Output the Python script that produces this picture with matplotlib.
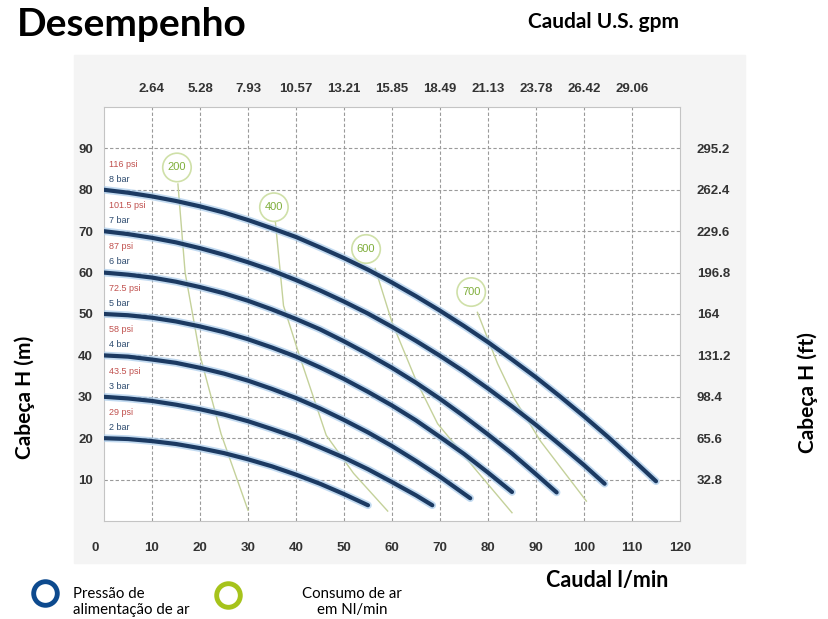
import matplotlib.pyplot as plt
from matplotlib.patches import Rectangle
from matplotlib.lines import Line2D
from matplotlib.transforms import ScaledTranslation

# axis tick values / labels
flow_lmin_ticks = [0, 10, 20, 30, 40, 50, 60, 70, 80, 90, 100, 110, 120]
flow_gpm_ticks = [10, 20, 30, 40, 50, 60, 70, 80, 90, 100, 110]
flow_gpm_labels = ['2.64', '5.28', '7.93', '10.57', '13.21', '15.85', '18.49',
                   '21.13', '23.78', '26.42', '29.06']
head_m_ticks = [10, 20, 30, 40, 50, 60, 70, 80, 90]
head_ft_labels = ['32.8', '65.6', '98.4', '131.2', '164', '196.8', '229.6',
                  '262.4', '295.2']

# performance curves (flow l/min, head m) for each supply pressure
bar_labels = ['2 bar', '3 bar', '4 bar', '5 bar', '6 bar', '7 bar', '8 bar']
psi_labels = ['29 psi', '43.5 psi', '58 psi', '72.5 psi', '87 psi', '101.5 psi', '116 psi']
shutoff_head = [20, 30, 40, 50, 60, 70, 80]

q_2bar = [0, 5, 10, 15, 20, 25, 30, 35, 40, 45, 50, 55]
h_2bar = [20, 19.8, 19.3, 18.6, 17.6, 16.4, 14.9, 13.2, 11.2, 9.0, 6.5, 3.8]
q_3bar = [0, 5, 10, 15, 20, 25, 30, 35, 40, 45, 50, 55, 60, 65, 68.4]
h_3bar = [30, 29.6, 29.0, 28.1, 27.0, 25.7, 24.1, 22.2, 20.2, 17.8, 15.3, 12.5, 9.4, 6.2, 3.8]
q_4bar = [0, 5, 10, 15, 20, 25, 30, 35, 40, 45, 50, 55, 60, 65, 70, 76.3]
h_4bar = [40, 39.7, 39.0, 38.2, 37.0, 35.6, 33.9, 31.9, 29.7, 27.2, 24.4, 21.4, 18.1,
          14.5, 10.7, 5.5]
q_5bar = [0, 5, 10, 15, 20, 25, 30, 35, 40, 45, 50, 55, 60, 65, 70, 75, 80, 85]
h_5bar = [50, 49.7, 49.1, 48.2, 47.0, 45.6, 43.9, 41.9, 39.7, 37.1, 34.3, 31.2, 27.9,
          24.3, 20.3, 16.2, 11.7, 7.0]
q_6bar = [0, 5, 10, 15, 20, 25, 30, 35, 40, 45, 50, 55, 60, 65, 70, 75, 80, 85, 90, 94.3]
h_6bar = [60, 59.5, 58.8, 57.8, 56.5, 55.0, 53.2, 51.1, 48.8, 46.3, 43.4, 40.3, 37.0,
          33.4, 29.5, 25.3, 20.9, 16.3, 11.3, 6.9]
q_7bar = [0, 5, 10, 15, 20, 25, 30, 35, 40, 45, 50, 55, 60, 65, 70, 75, 80, 85, 90, 95,
          100, 104.3]
h_7bar = [70, 69.3, 68.4, 67.3, 65.9, 64.3, 62.5, 60.5, 58.2, 55.7, 53.0, 50.1, 46.9,
          43.5, 39.9, 36.1, 32.0, 27.7, 23.2, 18.4, 13.5, 9.0]
q_8bar = [0, 5, 10, 15, 20, 25, 30, 35, 40, 45, 50, 55, 60, 65, 70, 75, 80, 85, 90, 95,
          100, 105, 110, 115]
h_8bar = [80, 79.3, 78.4, 77.3, 76.0, 74.5, 72.7, 70.7, 68.6, 66.1, 63.5, 60.7, 57.6,
          54.3, 50.8, 47.1, 43.2, 39.0, 34.7, 30.1, 25.3, 20.3, 15.0, 9.6]

# air consumption lines (Nl/min)
q_air200 = [15.4, 16.9, 20, 24.4, 30]
h_air200 = [81.4, 60, 40, 21, 2.6]
q_air400 = [35.7, 37.4, 40.7, 46.3, 52, 59.1]
h_air400 = [72.3, 52, 40, 20.7, 11.5, 2.4]
q_air600 = [56.5, 60, 65, 69.5, 77, 85]
h_air600 = [61, 48, 34, 23.5, 13, 2]
q_air700 = [77.8, 82, 85.5, 91, 100.5]
h_air700 = [50.4, 38, 29.5, 19.2, 4.8]
air_labels = ['200', '400', '600', '700']
air_label_q = [15.2, 35.4, 54.6, 76.5]
air_label_h = [85.4, 75.8, 65.7, 55.3]

curves_q = [q_2bar, q_3bar, q_4bar, q_5bar, q_6bar, q_7bar, q_8bar]
curves_h = [h_2bar, h_3bar, h_4bar, h_5bar, h_6bar, h_7bar, h_8bar]
air_q = [q_air200, q_air400, q_air600, q_air700]
air_h = [h_air200, h_air400, h_air600, h_air700]

W, H = 829, 619
fig = plt.figure(figsize=(W / 100, H / 100), dpi=100)

# grey backdrop of the pasted chart image
fig.patches.append(Rectangle((74 / W, 1 - 563 / H), (745 - 74) / W, (563 - 55) / H,
                             transform=fig.transFigure, color='#f4f4f4', zorder=-5))

ax = fig.add_axes([104 / W, 1 - 521 / H, 576 / W, 414 / H])
ax.set_xlim(0, 120)
ax.set_ylim(0, 100)
ax.set_facecolor('white')
for s in ax.spines.values():
    s.set_color('#c4c4c4')

for g in flow_gpm_ticks:
    ax.axvline(g, color='#9a9a9a', lw=0.8, ls=(0, (3, 2)), zorder=1)
for g in head_m_ticks:
    ax.axhline(g, color='#9a9a9a', lw=0.8, ls=(0, (3, 2)), zorder=1)

tick_font = dict(family='Liberation Sans', weight='bold', size=9.5)
ax.set_xticks(flow_lmin_ticks)
ax.set_xticklabels([str(v) for v in flow_lmin_ticks], color='#333333', **tick_font)
ax.set_yticks(head_m_ticks)
ax.set_yticklabels([str(v) for v in head_m_ticks], color='#333333', **tick_font)
ax.tick_params(axis='x', length=0, pad=15)
ax.tick_params(axis='y', length=0, pad=8)
first = ax.get_xticklabels()[0]
first.set_transform(first.get_transform() + ScaledTranslation(-9 / 100, 0, fig.dpi_scale_trans))

top = ax.twiny()
top.set_xlim(0, 120)
top.set_xticks(flow_gpm_ticks)
top.set_xticklabels(flow_gpm_labels, color='#333333', **tick_font)
top.tick_params(axis='x', length=0, pad=9)

right = ax.twinx()
right.set_ylim(0, 100)
right.set_yticks(head_m_ticks)
right.set_yticklabels(head_ft_labels, color='#333333', **tick_font)
right.tick_params(axis='y', length=0, pad=12)
for a in (top, right):
    for s in a.spines.values():
        s.set_visible(False)

# air consumption lines
for q, h in zip(air_q, air_h):
    ax.plot(q, h, color='#c4d19a', lw=1.0, zorder=2)
for lab, q, h in zip(air_labels, air_label_q, air_label_h):
    ax.text(q, h, lab, ha='center', va='center', fontsize=8, color='#7fae3a',
            family='Liberation Sans', zorder=5,
            bbox=dict(boxstyle='circle,pad=0.45', fc='white', ec='#cfe0a8', lw=1.2))

# pump curves
for q, h in zip(curves_q, curves_h):
    ax.plot(q, h, color='#a9cbeb', lw=5.5, alpha=0.7, solid_capstyle='round',
            solid_joinstyle='round', zorder=3)
    ax.plot(q, h, color='#1c3a62', lw=3.0, solid_capstyle='round',
            solid_joinstyle='round', zorder=4)

for h0, b, p in zip(shutoff_head, bar_labels, psi_labels):
    ax.text(1, h0 + 6.2, p, fontsize=6.5, color='#c0504d', va='center', ha='left',
            family='Liberation Sans', zorder=5)
    ax.text(1, h0 + 2.6, b, fontsize=6.5, color='#2c4a6e', va='center', ha='left',
            family='Liberation Sans', zorder=5)

# titles and axis names
fig.text(17 / W, 1 - 25 / H, 'Desempenho', fontsize=28, weight='bold',
         family='Lato', va='center', ha='left')
fig.text(604 / W, 1 - 22 / H, 'Caudal U.S. gpm', fontsize=15, weight='bold',
         family='Lato', va='center', ha='center')
fig.text(607 / W, 1 - 580 / H, 'Caudal l/min', fontsize=15.5, weight='bold',
         family='Lato', va='center', ha='center')
fig.text(25 / W, 1 - 397 / H, 'Cabeça H (m)', fontsize=15, weight='bold',
         family='Lato', rotation=90, va='center', ha='center')
fig.text(808 / W, 1 - 393 / H, 'Cabeça H (ft)', fontsize=15, weight='bold',
         family='Lato', rotation=90, va='center', ha='center')

# legend
fig.add_artist(Line2D([45 / W], [1 - 593 / H], transform=fig.transFigure, marker='o',
                      ms=17, mfc='none', mec='#0d4a8e', mew=3.5, ls='none'))
fig.add_artist(Line2D([228 / W], [1 - 595 / H], transform=fig.transFigure, marker='o',
                      ms=17, mfc='none', mec='#a6c31b', mew=3.5, ls='none'))
fig.text(73 / W, 1 - 602 / H, 'Pressão de\nalimentação de ar', fontsize=10.8,
         family='Lato', va='center', ha='left', linespacing=1.25)
fig.text(352 / W, 1 - 602 / H, 'Consumo de ar\nem Nl/min', fontsize=10.8,
         family='Lato', va='center', ha='center', linespacing=1.25)

fig.savefig('out.png', dpi=100)
